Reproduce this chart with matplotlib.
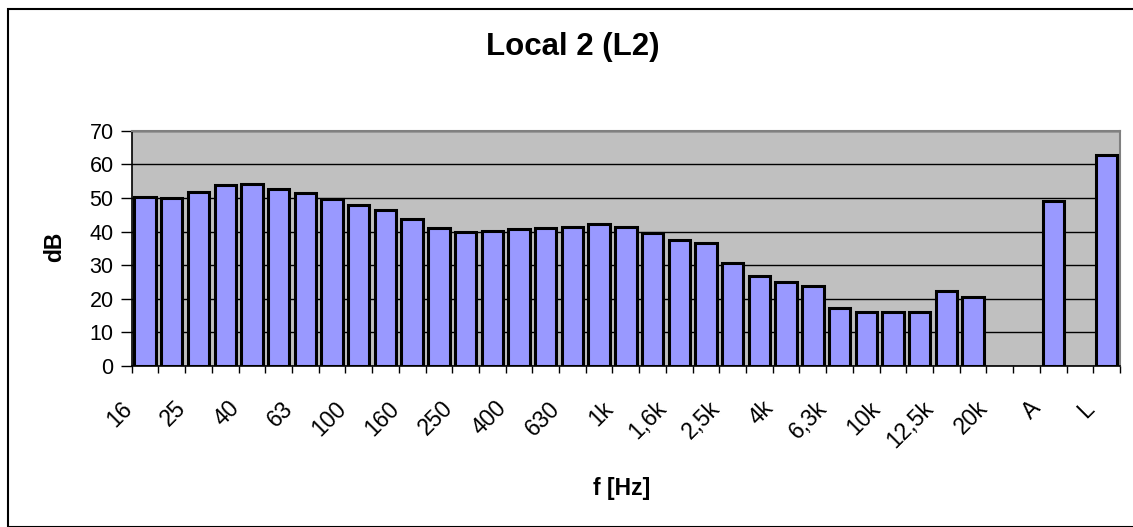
import matplotlib
matplotlib.use("Agg")
import matplotlib.pyplot as plt
from matplotlib.patches import Rectangle
import numpy as np

plt.rcParams['font.family'] = ['Liberation Sans', 'DejaVu Sans']

categories = ['16', '20', '25', '31,5', '40', '50', '63', '80', '100', '125',
              '160', '200', '250', '315', '400', '500', '630', '800', '1k', '1,25k',
              '1,6k', '2k', '2,5k', '3,15k', '4k', '5k', '6,3k', '8k', '10k', '11,2k',
              '12,5k', '16k', '20k', ' ', 'A', '  ', 'L']
values = [50.2, 50.0, 51.8, 53.8, 54.1, 52.7, 51.4, 49.8, 47.9, 46.3,
          43.8, 41.1, 40.0, 40.3, 40.7, 41.1, 41.3, 42.1, 41.5, 39.5,
          37.6, 36.7, 30.5, 26.9, 24.9, 23.8, 17.3, 16.0, 16.2, 16.0,
          22.2, 20.5, np.nan, np.nan, 49.1, np.nan, 62.9]
yticks = [0, 10, 20, 30, 40, 50, 60, 70]

W, H = 1133, 527
fig = plt.figure(figsize=(W / 100, H / 100), dpi=100)
fig.patch.set_facecolor('white')

# outer chart border
fig.patches.append(Rectangle((8 / W, 0), 1.2, 1 - 9 / H, transform=fig.transFigure,
                             fill=False, edgecolor='black', linewidth=1.5))

ax = fig.add_axes([131.7 / W, 1 - 366 / H, (1120 - 131.7) / W, (366 - 130.7) / H])
ax.set_facecolor('#C0C0C0')

x = np.arange(len(categories))
vals = np.array(values, dtype=float)
mask = ~np.isnan(vals)
ax.bar(x[mask], vals[mask], width=0.8, color='#9999FF', edgecolor='black',
       linewidth=2.2, zorder=3)

ax.set_xlim(-0.5, len(categories) - 0.5)
ax.set_ylim(0, 70)
ax.set_yticks(yticks)
ax.set_yticklabels([str(v) for v in yticks], fontsize=15.5)
ax.yaxis.grid(True, color='black', linewidth=1)
ax.set_axisbelow(True)

# x ticks at category boundaries
ax.set_xticks(np.arange(len(categories) + 1) - 0.5)
ax.set_xticklabels([])
ax.tick_params(axis='x', which='major', length=5, width=1, color='black', direction='out')
ax.tick_params(axis='y', length=8, width=1, direction='out', pad=5)

# rotated category labels on every other category
for xi, lbl in zip(x[::2], categories[::2]):
    ax.annotate(lbl, xy=(xi, 0), xycoords=('data', 'axes fraction'),
                xytext=(-11.5, -28), textcoords='offset points',
                rotation=45, rotation_mode='anchor', ha='right', va='center',
                fontsize=16.5, annotation_clip=False)

for s in ['left', 'bottom']:
    ax.spines[s].set_color('black')
    ax.spines[s].set_linewidth(1.2)
for s in ['top', 'right']:
    ax.spines[s].set_color('#808080')
    ax.spines[s].set_linewidth(1.5)

fig.text(573 / W, 1 - 47 / H, 'Local 2 (L2)', fontsize=22.5, fontweight='bold',
         ha='center', va='center')
fig.text(55 / W, 1 - 247 / H, 'dB', fontsize=16.5, fontweight='bold', rotation=90,
         ha='center', va='center')
fig.text(622 / W, 1 - 489 / H, 'f [Hz]', fontsize=16.5, fontweight='bold',
         ha='center', va='center')

fig.savefig('out.png', dpi=100, facecolor='white')
